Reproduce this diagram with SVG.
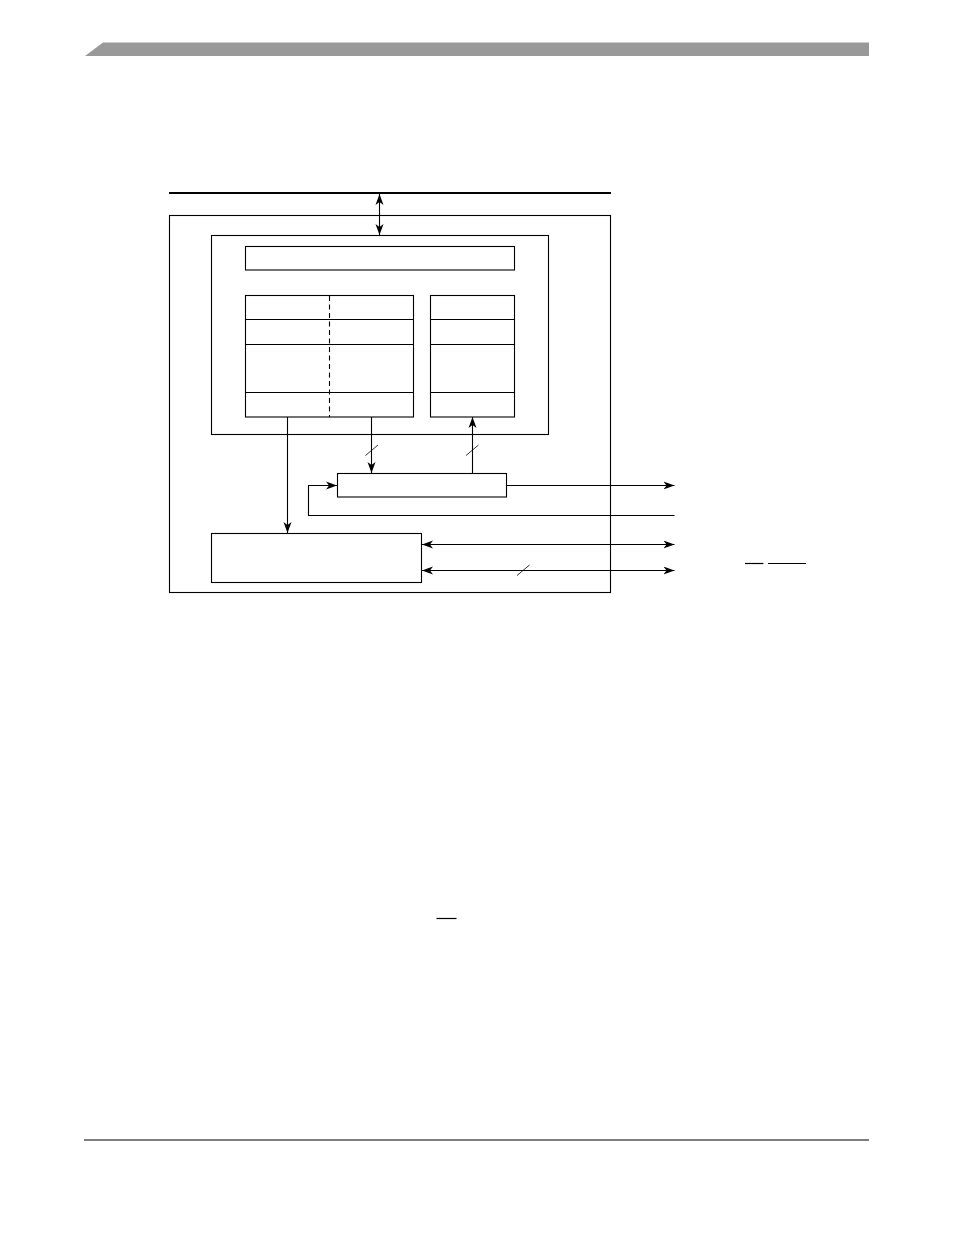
<svg xmlns="http://www.w3.org/2000/svg" width="954" height="1235" viewBox="0 0 954 1235">
<style>
.box{fill:none;stroke:#000;stroke-width:1.1}
.ln{fill:none;stroke:#000;stroke-width:1.1}
.dash{fill:none;stroke:#000;stroke-width:1.1;stroke-dasharray:5,3.5}
.sl{fill:none;stroke:#000;stroke-width:0.8}
.ov{fill:none;stroke:#000;stroke-width:1.2}
</style>
<defs>
<marker id="ah" markerUnits="userSpaceOnUse" markerWidth="12" markerHeight="10" viewBox="0 0 12 10" refX="11" refY="5" orient="auto-start-reverse">
<path d="M0,1 L11,5 L0,9 L3,5 z" fill="#000"/>
</marker>
</defs>
<rect width="954" height="1235" fill="#fff"/>
<g id="header">
<polygon points="85,56 103,42.5 869,42.5 869,56" fill="#999"/>
</g>
<g id="footer">
<line x1="84" y1="1140" x2="869" y2="1140" stroke="#000" stroke-width="1.1"/>
</g>
<g id="bus">
<line x1="169" y1="193" x2="611" y2="193" stroke="#000" stroke-width="2.2"/>
</g>
<g id="outer">
<rect class="box" x="169.5" y="215.5" width="441" height="377"/>
</g>
<g id="inner">
<rect class="box" x="211.5" y="235.5" width="337" height="199"/>
</g>
<g id="topbar">
<rect class="box" x="245.5" y="246.5" width="269" height="23.5"/>
</g>
<g id="lefttable">
<rect class="box" x="245.5" y="295.5" width="168" height="121.5"/>
<line class="ln" x1="245.5" y1="319.5" x2="413.5" y2="319.5"/>
<line class="ln" x1="245.5" y1="344.5" x2="413.5" y2="344.5"/>
<line class="ln" x1="245.5" y1="392.5" x2="413.5" y2="392.5"/>
<line class="dash" x1="329.5" y1="296" x2="329.5" y2="417"/>
</g>
<g id="righttable">
<rect class="box" x="430.5" y="295.5" width="84" height="121.5"/>
<line class="ln" x1="430.5" y1="319.5" x2="514.5" y2="319.5"/>
<line class="ln" x1="430.5" y1="344.5" x2="514.5" y2="344.5"/>
<line class="ln" x1="430.5" y1="392.5" x2="514.5" y2="392.5"/>
</g>
<g id="middle">
<rect class="box" x="337.5" y="473.5" width="169" height="23.5"/>
</g>
<g id="lower">
<rect class="box" x="211.5" y="533.5" width="210" height="49"/>
</g>
<g id="connectors">
<line class="ln" x1="379.5" y1="194" x2="379.5" y2="235" marker-start="url(#ah)" marker-end="url(#ah)"/>
<line class="ln" x1="287.5" y1="417" x2="287.5" y2="533" marker-end="url(#ah)"/>
<line class="ln" x1="371.5" y1="417" x2="371.5" y2="473" marker-end="url(#ah)"/>
<line class="sl" x1="365.5" y1="455.5" x2="378" y2="445"/>
<line class="ln" x1="472.5" y1="473" x2="472.5" y2="417" marker-end="url(#ah)"/>
<line class="sl" x1="466" y1="455.5" x2="478.5" y2="445"/>
<line class="ln" x1="506" y1="485.5" x2="674.5" y2="485.5" marker-end="url(#ah)"/>
<polyline class="ln" points="674.5,515.5 308.5,515.5 308.5,485.5 337,485.5" marker-end="url(#ah)"/>
<line class="ln" x1="422" y1="544.5" x2="674.5" y2="544.5" marker-start="url(#ah)" marker-end="url(#ah)"/>
<line class="ln" x1="422" y1="570.5" x2="674.5" y2="570.5" marker-start="url(#ah)" marker-end="url(#ah)"/>
<line class="sl" x1="517" y1="575.5" x2="529.5" y2="565"/>
</g>
<g id="overlines">
<line class="ov" x1="745" y1="563.5" x2="763.5" y2="563.5"/>
<line class="ov" x1="768" y1="563.5" x2="806" y2="563.5"/>
<line class="ov" x1="436.5" y1="918.5" x2="456.5" y2="918.5"/>
</g>
</svg>
